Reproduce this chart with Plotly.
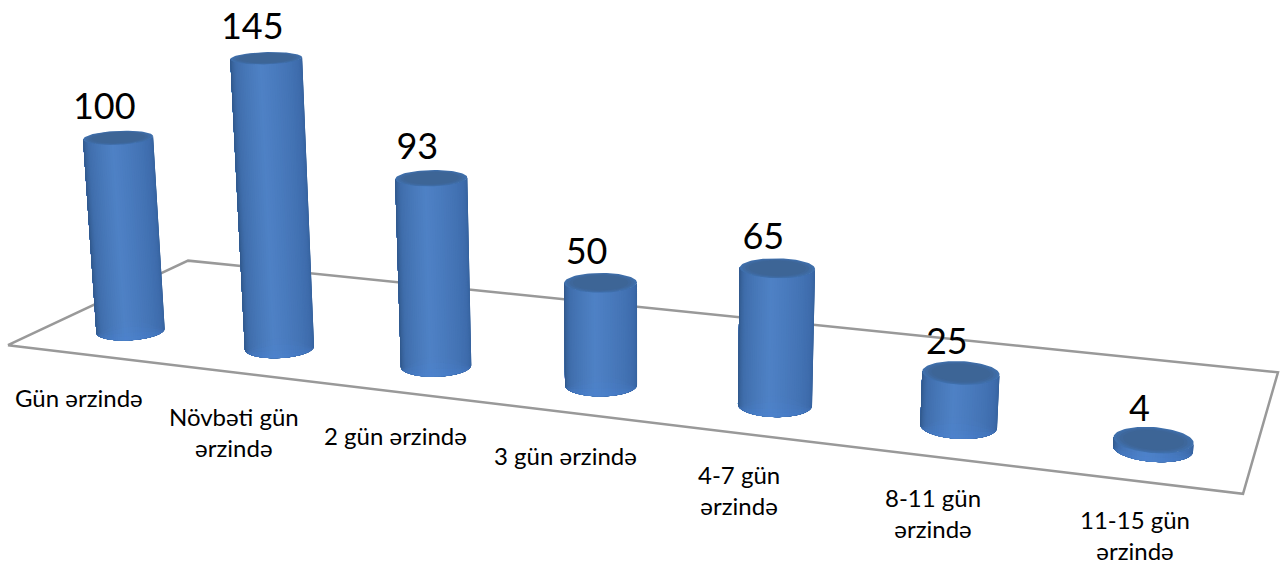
import numpy as np
import plotly.graph_objects as go

categories = ["Gün ərzində", "Növbəti gün<br>ərzində", "2 gün ərzində", "3 gün ərzində",
              "4-7 gün<br>ərzində", "8-11 gün<br>ərzində", "11-15 gün<br>ərzində"]
values = [100, 145, 93, 50, 65, 25, 4]
label_x = [79, 234, 395, 565, 739, 933, 1135]
label_y = [397, 432, 435, 455, 490, 513, 535]

# Pinhole camera looking at a unit-wide floor, in axis pixels
CX, CY = 642.5, 282.5
YAW, PITCH, ROLL, FOCAL = -0.347547, 0.274777, 0.000335815, 2238.93
EYE = np.array([0.60274, -1.63628, 0.556109])
FLOOR_DEPTH = 0.285957
HEIGHT_PER_UNIT = 0.00167445
FIRST_BAR, BAR_STEP = 0.0732851, 0.142736
BAR_ROW = 0.247388
RADIUS = 0.0283471

forward = np.array([np.sin(YAW)*np.cos(PITCH), np.cos(YAW)*np.cos(PITCH), -np.sin(PITCH)])
right0 = np.array([np.cos(YAW), -np.sin(YAW), 0.0])
up0 = np.cross(right0, forward)
right = np.cos(ROLL)*right0 + np.sin(ROLL)*up0
up = -np.sin(ROLL)*right0 + np.cos(ROLL)*up0


def project(points):
    d = np.asarray(points, float) - EYE
    w = d @ forward
    return CX + FOCAL*(d @ right)/w, CY - FOCAL*(d @ up)/w


def bar_centre(i):
    return FIRST_BAR + BAR_STEP*i - 0.5, (BAR_ROW - 0.5)*FLOOR_DEPTH


def side_polygon(i, t0, top_height, n=48):
    # Wall patch from view-relative angle t0 to the right silhouette; top_height(t) sets its upper edge
    cx, cy = bar_centre(i)
    facing = np.arctan2(EYE[1]-cy, EYE[0]-cx)
    t = np.linspace(t0, 1, n)
    th = facing + np.pi/2 - np.pi*t
    low = np.stack([cx+RADIUS*np.cos(th), cy+RADIUS*np.sin(th), np.zeros(n)], -1)
    high = np.stack([cx+RADIUS*np.cos(th), cy+RADIUS*np.sin(th), top_height(t)], -1)
    xs, ys = project(np.vstack([low, high[::-1], low[:1]]))
    return list(xs)+[None], list(ys)+[None]


def shade(t):
    stops = [(0, (52, 96, 154)), (.15, (62, 108, 172)), (.55, (79, 130, 198)),
             (.82, (64, 110, 172)), (1, (46, 84, 132))]
    for (a, ca), (b, cb) in zip(stops, stops[1:]):
        if t <= b:
            w = (t-a)/(b-a)
            return "rgb(%d,%d,%d)" % tuple(ca[k]+(cb[k]-ca[k])*w for k in range(3))
    return "rgb(46,84,132)"


fig = go.Figure()

# Floor outline
half_d = FLOOR_DEPTH/2
fx, fy = project([[-.5, -half_d, 0], [-.5, half_d, 0], [.5, half_d, 0], [.5, -half_d, 0], [-.5, -half_d, 0]])
fig.add_trace(go.Scatter(x=fx, y=fy, mode="lines", line=dict(color="#999999", width=2.5), hoverinfo="skip"))

# Cylinder walls: each band runs to the right edge, so later bands paint over it without seams
BANDS = 48
for k in range(BANDS):
    xs, ys = [], []
    for i, v in enumerate(values):
        px, py = side_polygon(i, k/BANDS, lambda t: np.full(t.size, v*HEIGHT_PER_UNIT))
        xs += px
        ys += py
    colour = shade((k+.5)/BANDS)
    fig.add_trace(go.Scatter(x=xs, y=ys, mode="lines", fill="toself", fillcolor=colour,
                             line=dict(width=0), hoverinfo="skip"))

# Soft glow along the lower rim, fading out towards both silhouettes
for rim_units, alpha in [(10, .06), (7, .08), (4, .10), (2, .10)]:
    xs, ys = [], []
    for i, v in enumerate(values):
        px, py = side_polygon(i, 0, lambda t: np.minimum(rim_units*np.sin(np.pi*t)**2, v)*HEIGHT_PER_UNIT)
        xs += px
        ys += py
    fig.add_trace(go.Scatter(x=xs, y=ys, mode="lines", fill="toself", fillcolor=f"rgba(80,140,225,{alpha})",
                             line=dict(width=0), hoverinfo="skip"))

# Top caps: a lighter bevelled rim around a darker centre
angles = np.linspace(0, 2*np.pi, 90)
for scale, colour in [(1.0, "#3f6fab"), (.93, "#3f6ba3"), (.85, "#3e679b"), (.76, "#3d6596")]:
    cap_x, cap_y = [], []
    for i, v in enumerate(values):
        cx, cy = bar_centre(i)
        px, py = project(np.stack([cx+scale*RADIUS*np.cos(angles), cy+scale*RADIUS*np.sin(angles),
                                   np.full(90, v*HEIGHT_PER_UNIT)], -1))
        cap_x += list(px)+[None]
        cap_y += list(py)+[None]
    fig.add_trace(go.Scatter(x=cap_x, y=cap_y, mode="lines", fill="toself", fillcolor=colour,
                             line=dict(width=0), hoverinfo="skip"))

# Value labels sit up and to the left of each cap centre
tx, ty = project([[*bar_centre(i), v*HEIGHT_PER_UNIT] for i, v in enumerate(values)])
fig.add_trace(go.Scatter(x=tx-14, y=ty-10, mode="text", text=[str(v) for v in values],
                         textposition="top center", textfont=dict(family="Lato", size=36, color="black"),
                         hoverinfo="skip"))

for text, x, y in zip(categories, label_x, label_y):
    fig.add_annotation(x=x, y=y, text=text, showarrow=False, align="center",
                       font=dict(family="Lato", size=24, color="black"))

fig.update_xaxes(visible=False, range=[0, 1285])
fig.update_yaxes(visible=False, range=[565, 0])
fig.update_layout(width=1285, height=565, margin=dict(l=0, r=0, t=0, b=0), showlegend=False,
                  plot_bgcolor="white", paper_bgcolor="white")
fig.write_html("out.html")
